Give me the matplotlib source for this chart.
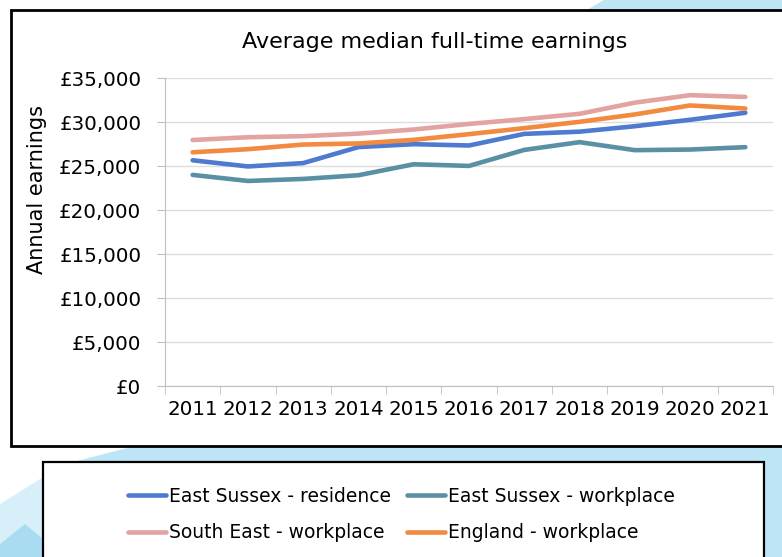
import matplotlib.pyplot as plt
from matplotlib.patches import Rectangle, Polygon
from matplotlib.ticker import FuncFormatter, FixedLocator

years = [str(y) for y in range(2011, 2022)]
es_residence = [25650, 24950, 25330, 27150, 27480, 27330, 28650, 28900, 29520, 30250, 31050]
es_workplace = [23990, 23300, 23530, 23950, 25200, 25010, 26830, 27710, 26800, 26870, 27140]
se_workplace = [27950, 28270, 28390, 28680, 29150, 29780, 30330, 30930, 32200, 33050, 32850]
eng_workplace = [26560, 26910, 27440, 27560, 27970, 28620, 29300, 30020, 30860, 31880, 31530]

names = ["East Sussex - residence", "East Sussex - workplace",
         "South East - workplace", "England - workplace"]
colors = ["#4E7AD0", "#5A90A3", "#E2A3A1", "#F28A40"]

W, H = 782, 557


def fx(x):
    return x / W


def fy(y):
    return 1 - y / H


plt.rcParams['font.family'] = ['DejaVu Sans']
fig = plt.figure(figsize=(7.82, 5.57), dpi=100)

# background decoration
light = "#BEE5F5"
fig.patches.append(Polygon([(fx(585), fy(12)), (fx(605), fy(0)), (1, 1), (1, fy(12))],
                           closed=True, transform=fig.transFigure, color=light, zorder=-3))
fig.patches.append(Polygon([(fx(135), fy(446)), (1, fy(446)), (1, 0), (fx(43), 0), (fx(43), fy(470))],
                           closed=True, transform=fig.transFigure, color=light, zorder=-3))
fig.patches.append(Polygon([(0, fy(505)), (fx(43), fy(478)), (fx(43), 0), (0, 0)],
                           closed=True, transform=fig.transFigure, color="#D6EFF9", zorder=-3))
fig.patches.append(Polygon([(0, fy(545)), (fx(25), fy(525)), (fx(43), fy(540)), (fx(43), 0), (0, 0)],
                           closed=True, transform=fig.transFigure, color="#A9DCF1", zorder=-3))

# chart and legend boxes
fig.patches.append(Rectangle((fx(11), fy(446)), 1.0, fy(10) - fy(446), transform=fig.transFigure,
                             facecolor="white", edgecolor="black", linewidth=2, zorder=-2))
fig.patches.append(Rectangle((fx(43), fy(600)), fx(764) - fx(43), fy(462) - fy(600),
                             transform=fig.transFigure, facecolor="white", edgecolor="black",
                             linewidth=1.6, zorder=-2))

ax = fig.add_axes([fx(165), fy(386), fx(773) - fx(165), (386 - 78) / H])
ax.set_zorder(2)
ax.patch.set_alpha(0)
x = range(len(years))
series = [es_residence, es_workplace, se_workplace, eng_workplace]
lines = []
for vals, name, c in zip(series, names, colors):
    ln, = ax.plot(x, vals, color=c, linewidth=3.3, label=name, solid_capstyle='round')
    lines.append(ln)

ax.set_xlim(-0.5, len(years) - 0.5)
ax.set_ylim(0, 35000)
ax.set_yticks(range(0, 35001, 5000))
ax.yaxis.set_major_formatter(FuncFormatter(lambda v, p: f"£{v:,.0f}"))
ax.set_xticks(list(x))
ax.set_xticklabels(years)
ax.xaxis.set_minor_locator(FixedLocator([i - 0.5 for i in range(len(years) + 1)]))
ax.tick_params(axis='x', which='major', length=0, labelsize=14.3, pad=10)
ax.tick_params(axis='x', which='minor', length=6, color="#BFBFBF")
ax.tick_params(axis='y', length=6, color="#BFBFBF", labelsize=14.3, pad=11)
ax.grid(axis='y', color="#DDDDDD", linewidth=1)
ax.set_axisbelow(True)
for s in ['top', 'right']:
    ax.spines[s].set_visible(False)
for s in ['left', 'bottom']:
    ax.spines[s].set_color("#BFBFBF")

fig.text(fx(435), fy(42), "Average median full-time earnings", ha='center', va='center', fontsize=16)
fig.text(fx(37), fy(190), "Annual earnings", rotation=90, ha='center', va='center', fontsize=15)

order = [0, 2, 1, 3]
leg = fig.legend([lines[i] for i in order], [names[i] for i in order], ncol=2, loc='upper left',
                 bbox_to_anchor=(fx(128), fy(487)), frameon=False, fontsize=13.5,
                 handlelength=2.0, handletextpad=0.2, columnspacing=0.85, labelspacing=0.92,
                 borderpad=0, borderaxespad=0)
leg.set_zorder(3)

fig.savefig("out.png", dpi=100)
